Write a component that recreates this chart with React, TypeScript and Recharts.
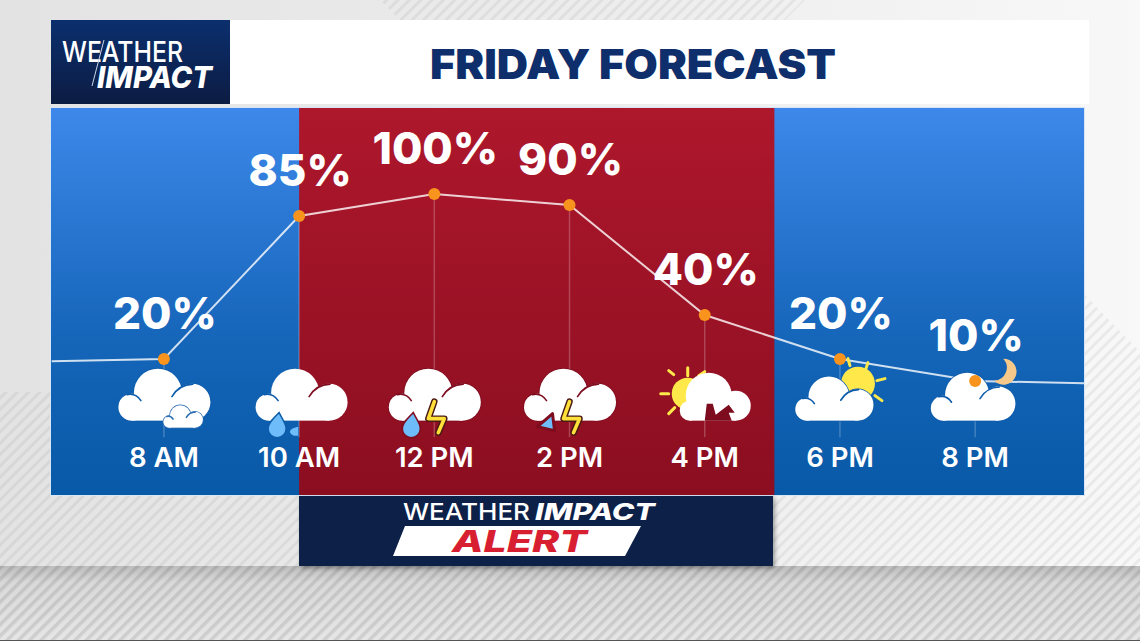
import React from 'react';
import { LineChart, Line, XAxis, YAxis, ReferenceArea, ReferenceLine, LabelList } from 'recharts';

// x is hour of day; the first and last entries are where the trace runs off the panel
const hours = [6.34, 8, 10, 12, 14, 16, 18, 20, 21.61];
const tickHours = [8, 10, 12, 14, 16, 18, 20];
const tickLabels = ['8 AM', '10 AM', '12 PM', '2 PM', '4 PM', '6 PM', '8 PM'];
// height of the drawn line (the 12 PM point sits lower than its 100% label on the graphic)
const traceLevels = [19, 20, 85, 95, 90, 40, 20, 10, 9];
const rainLabels = [null, 20, 85, 100, 90, 40, 20, 10, null];
const iconNames = [null, 'cloudy', 'rain', 'storm', 'stormAlt', 'sunStorm', 'partSun', 'night', null];

const alertFrom = 10;
const alertTo = 17.03;
const domainX = [6.33, 21.61];
const domainY = [-41.8, 134.1];
const stemFloor = -15.5;
const iconFloor = -8;

const FONT = 'Inter, "Open Sans", sans-serif';
const RED_EDGE = '#7d0c1e';
const BLUE_EDGE = '#0d5cab';

const chartData = hours.map((hour, i) => ({
    hour,
    trace: traceLevels[i],
    label: rainLabels[i],
    marker: rainLabels[i] == null ? null : traceLevels[i],
    iconBase: iconNames[i] == null ? null : iconFloor,
    icon: iconNames[i],
}));

// edgeRight is for the 10 AM cloud, which straddles the blue and red panels
const Cloud = ({ x = 0, y = 0, s = 1, edge, edgeRight, outline = true }: any) => {
    const shapes = (extra: any) => (
        <g {...extra}>
            <circle cx={-32} cy={-13.5} r={13.5} />
            <circle cx={-6} cy={-28} r={24} />
            <circle cx={28} cy={-18.5} r={18.5} />
            <rect x={-32} y={-20} width={60} height={20} />
        </g>
    );
    return (
        <g transform={`translate(${x},${y}) scale(${s})`}>
            {outline && shapes({ fill: edge, stroke: edge, strokeWidth: 1.5 / s })}
            {shapes({ fill: '#fff' })}
            <path d="M8 -24 Q15 -36 29 -36.5" fill="none" stroke={edgeRight || edge} strokeWidth={1.6 / s} strokeLinecap="round" />
            <path d="M-37 -26 Q-28 -28 -23 -20" fill="none" stroke={edge} strokeWidth={1.6 / s} strokeLinecap="round" />
        </g>
    );
};

const Drop = ({ x, y, edge }: any) => (
    <path
        d={`M${x + 2} ${y - 15} C${x + 6} ${y - 7} ${x + 9} ${y - 4} ${x + 9} ${y + 1} A9 9 0 1 1 ${x - 9} ${y + 1} C${x - 9} ${y - 5} ${x - 3} ${y - 10} ${x + 2} ${y - 15} Z`}
        fill="#6fbcfb"
        stroke={edge}
        strokeWidth={1.5}
    />
);

const Bolt = () => (
    <g fill="none" strokeLinejoin="round" strokeLinecap="round">
        <polyline points="0,-19 -6,-2 10,-2 4,12" stroke="#4a1a14" strokeWidth={6.5} />
        <polyline points="0,-19 -6,-2 10,-2 4,12" stroke="#ffe03a" strokeWidth={3.6} />
    </g>
);

const Rays = ({ rays }: { rays: number[][] }) => (
    <g strokeLinecap="round">
        {rays.map((r, i) => (
            <line key={i} x1={r[0]} y1={r[1]} x2={r[2]} y2={r[3]} stroke="#ffe94a" strokeWidth={3} />
        ))}
    </g>
);

const WeatherIcon = ({ name }: { name: string }) => {
    if (name === 'cloudy') {
        return (
            <g>
                <Cloud edge={BLUE_EDGE} />
                <Cloud x={19} y={7} s={0.43} edge="#2f6fb5" />
            </g>
        );
    }
    if (name === 'rain') {
        return (
            <g>
                <path d="M-1 6 L-1 15 A8 8 0 0 1 -9 12 C-10 9 -6 7 -1 6 Z" fill="#6fbcfb" />
                <Cloud x={2} edge={BLUE_EDGE} edgeRight={RED_EDGE} outline={false} />
                <Drop x={-22} y={7} edge={BLUE_EDGE} />
            </g>
        );
    }
    if (name === 'storm') {
        return (
            <g>
                <Cloud edge={RED_EDGE} />
                <Drop x={-23} y={7} edge={RED_EDGE} />
                <Bolt />
            </g>
        );
    }
    if (name === 'stormAlt') {
        return (
            <g>
                <Cloud edge={RED_EDGE} />
                <polygon points="-17,-7 -15,10 -32,6" fill="#6fbcfb" stroke={RED_EDGE} strokeWidth={3} strokeLinejoin="round" />
                <Bolt />
            </g>
        );
    }
    if (name === 'sunStorm') {
        return (
            <g>
                <circle cx={-17} cy={-27} r={16} fill="#ffe94a" />
                <Rays rays={[[-17, -53, -17, -45], [-36, -50, -31, -46], [-44, -27, -36, -27], [-36, -7, -30, -13], [-6, -45, 0, -49]]} />
                <circle cx={-15} cy={-10} r={10} fill="#fff" />
                <circle cx={4} cy={-25} r={23} fill="#fff" />
                <circle cx={31} cy={-15} r={15} fill="#fff" />
                <rect x={-15} y={-16} width={46} height={16} fill="#fff" />
                <path d="M0 0 L2 -17 L8 -17 L11 -6 L24 -16 L30 -8 L24 -8 L27 0 Z" fill={RED_EDGE} />
            </g>
        );
    }
    if (name === 'partSun') {
        return (
            <g>
                <circle cx={18} cy={-37} r={17} fill="#ffe94a" />
                <Rays rays={[[28, -58, 26, -52], [37, -40, 45, -42], [35, -25, 42, -20], [8, -62, 10, -55]]} />
                <Cloud x={-6} s={0.85} edge={BLUE_EDGE} />
            </g>
        );
    }
    return (
        <g>
            <path d="M28 -62 A13 13 0 1 1 19 -40 A13 13 0 0 0 28 -62 Z" fill="#f6c98a" />
            <Cloud x={-2.5} s={0.92} edge={BLUE_EDGE} />
        </g>
    );
};

const renderIcon = (props: any) => {
    const { cx, cy, payload, index } = props;
    if (!payload.icon || cx == null || cy == null) return <g key={index} />;
    return (
        <g key={index} transform={`translate(${cx},${cy})`}>
            <WeatherIcon name={payload.icon} />
        </g>
    );
};

const renderMarker = (props: any) => {
    const { cx, cy, payload, index } = props;
    if (payload.label == null || cx == null || cy == null) return <g key={index} />;
    return <circle key={index} cx={cx} cy={cy} r={6} fill="#f8941d" />;
};

const renderRainLabel = (props: any) => {
    const { x, y, value, index } = props;
    if (value == null) return <g key={index} />;
    return (
        <text key={index} x={x + 1} y={y - 30} textAnchor="middle" fill="#fff" fontFamily={FONT} fontWeight={800} fontSize={44}>
            {value}%
        </text>
    );
};

const renderHourTick = (props: any) => {
    const { x, y, payload } = props;
    return (
        <text x={x} y={y - 36} textAnchor="middle" fill="#fff" fontFamily={FONT} fontWeight={600} fontSize={27.5}>
            {tickLabels[tickHours.indexOf(payload.value)]}
        </text>
    );
};

const Backdrop = () => (
    <svg width={1140} height={641} style={{ position: 'absolute', left: 0, top: 0 }}>
        <defs>
            <linearGradient id="pageFade" x1="0" y1="0" x2="1" y2="0">
                <stop offset="0%" stopColor="#e3e3e3" />
                <stop offset="55%" stopColor="#ededed" />
                <stop offset="100%" stopColor="#f8f8f8" />
            </linearGradient>
            <linearGradient id="bandFade" x1="0" y1="0" x2="0" y2="1">
                <stop offset="0%" stopColor="#bdbdbd" />
                <stop offset="22%" stopColor="#d9d9d9" />
                <stop offset="100%" stopColor="#e6e6e6" />
            </linearGradient>
            <pattern id="hatch" width={8} height={8} patternUnits="userSpaceOnUse" patternTransform="rotate(45)">
                <rect width={3} height={8} fill="#000" fillOpacity={0.055} />
            </pattern>
            <pattern id="hatchDark" width={8} height={8} patternUnits="userSpaceOnUse" patternTransform="rotate(45)">
                <rect width={3.5} height={8} fill="#000" fillOpacity={0.1} />
            </pattern>
        </defs>
        <rect width={1140} height={641} fill="url(#pageFade)" />
        <polygon points="0,392 50,392 50,496 1085,496 1085,295 1140,352 1140,566 0,566" fill="url(#hatch)" />
        <polygon points="380,0 805,0 785,20 400,20" fill="url(#hatch)" />
        <rect y={566} width={1140} height={75} fill="url(#bandFade)" />
        <rect y={566} width={1140} height={75} fill="url(#hatchDark)" />
        <rect y={640} width={1140} height={1} fill="#555" />
        <rect x={50} y={107} width={1035} height={389} fill="#d6e6f6" />
    </svg>
);

const Header = () => (
    <svg width={1140} height={641} style={{ position: 'absolute', left: 0, top: 0 }}>
        <defs>
            <linearGradient id="logoFill" x1="0" y1="0" x2="0" y2="1">
                <stop offset="0%" stopColor="#0b2f6e" />
                <stop offset="100%" stopColor="#0c1c42" />
            </linearGradient>
        </defs>
        <rect x={230} y={20} width={859} height={84} fill="#fff" />
        <rect x={51} y={20} width={179} height={84} fill="url(#logoFill)" />
        <text x={62} y={62} textLength={121} lengthAdjust="spacingAndGlyphs" fill="#fff" fontFamily={FONT} fontWeight={500} fontSize={29}>WEATHER</text>
        <text x={97} y={88} textLength={115} lengthAdjust="spacingAndGlyphs" fill="#fff" fontFamily={FONT} fontWeight={800} fontStyle="italic" fontSize={30}>IMPACT</text>
        <line x1={104} y1={40} x2={92} y2={86} stroke="#c8d6ea" strokeWidth={1} />
        <text x={633} y={79} textAnchor="middle" textLength={406} lengthAdjust="spacingAndGlyphs" fill="#0e2f6b" fontFamily={FONT} fontWeight={900} fontSize={41}>FRIDAY FORECAST</text>

        <rect x={299} y={496} width={474} height={70} fill="#0d2048" style={{ filter: 'drop-shadow(2px 2px 2px rgba(0,0,0,0.35))' }} />
        <text x={403} y={520} textLength={127} lengthAdjust="spacingAndGlyphs" fill="#fff" fontFamily={FONT} fontWeight={500} fontSize={23}>WEATHER</text>
        <text x={535} y={520} textLength={120} lengthAdjust="spacingAndGlyphs" fill="#fff" fontFamily={FONT} fontWeight={800} fontStyle="italic" fontSize={23}>IMPACT</text>
        <polygon points="405,526 641,526 625,556 393,556" fill="#fff" />
        <text x={452} y={552} textLength={135} lengthAdjust="spacingAndGlyphs" fill="#d81f32" fontFamily={FONT} fontWeight={800} fontStyle="italic" fontSize={30}>ALERT</text>
    </svg>
);

const App: React.FC = () => {
    return (
        <div style={{ position: 'absolute', left: 0, top: 0, width: 1140, height: 641, overflow: 'hidden' }}>
            <Backdrop />
            <Header />
            <div style={{ position: 'absolute', left: 0, top: 0 }}>
                <LineChart
                    width={1140}
                    height={641}
                    data={chartData}
                    margin={{ top: 108, right: 56, bottom: 145, left: 51 }}
                >
                    <defs>
                        <linearGradient id="panelBlue" x1="0" y1="0" x2="0" y2="1">
                            <stop offset="0%" stopColor="#3d88ea" />
                            <stop offset="60%" stopColor="#1565b9" />
                            <stop offset="100%" stopColor="#0859a6" />
                        </linearGradient>
                        <linearGradient id="panelRed" x1="0" y1="0" x2="0" y2="1">
                            <stop offset="0%" stopColor="#ae172c" />
                            <stop offset="100%" stopColor="#8b0e20" />
                        </linearGradient>
                    </defs>
                    <ReferenceArea x1={domainX[0]} x2={domainX[1]} y1={domainY[0]} y2={domainY[1]} fill="url(#panelBlue)" fillOpacity={1} stroke="none" />
                    <ReferenceArea x1={alertFrom} x2={alertTo} y1={domainY[0]} y2={domainY[1]} fill="url(#panelRed)" fillOpacity={1} stroke="none" />
                    <XAxis
                        dataKey="hour"
                        type="number"
                        domain={domainX}
                        ticks={tickHours}
                        interval={0}
                        height={1}
                        axisLine={false}
                        tickLine={false}
                        tick={renderHourTick}
                        zIndex={600}
                    />
                    <YAxis hide type="number" domain={domainY} allowDataOverflow />
                    {chartData.filter((d) => d.marker != null).map((d) => (
                        <ReferenceLine
                            key={d.hour}
                            segment={[{ x: d.hour, y: d.marker as number }, { x: d.hour, y: stemFloor }]}
                            stroke="#fff"
                            strokeOpacity={0.22}
                            strokeWidth={1.5}
                        />
                    ))}
                    <Line dataKey="trace" stroke="#fff" strokeOpacity={0.8} strokeWidth={2} dot={false} activeDot={false} isAnimationActive={false} />
                    <Line dataKey="iconBase" stroke="none" dot={renderIcon} activeDot={false} isAnimationActive={false} />
                    <Line dataKey="marker" stroke="none" dot={renderMarker} activeDot={false} isAnimationActive={false}>
                        <LabelList dataKey="label" content={renderRainLabel} />
                    </Line>
                </LineChart>
            </div>
        </div>
    );
};

export default App;
